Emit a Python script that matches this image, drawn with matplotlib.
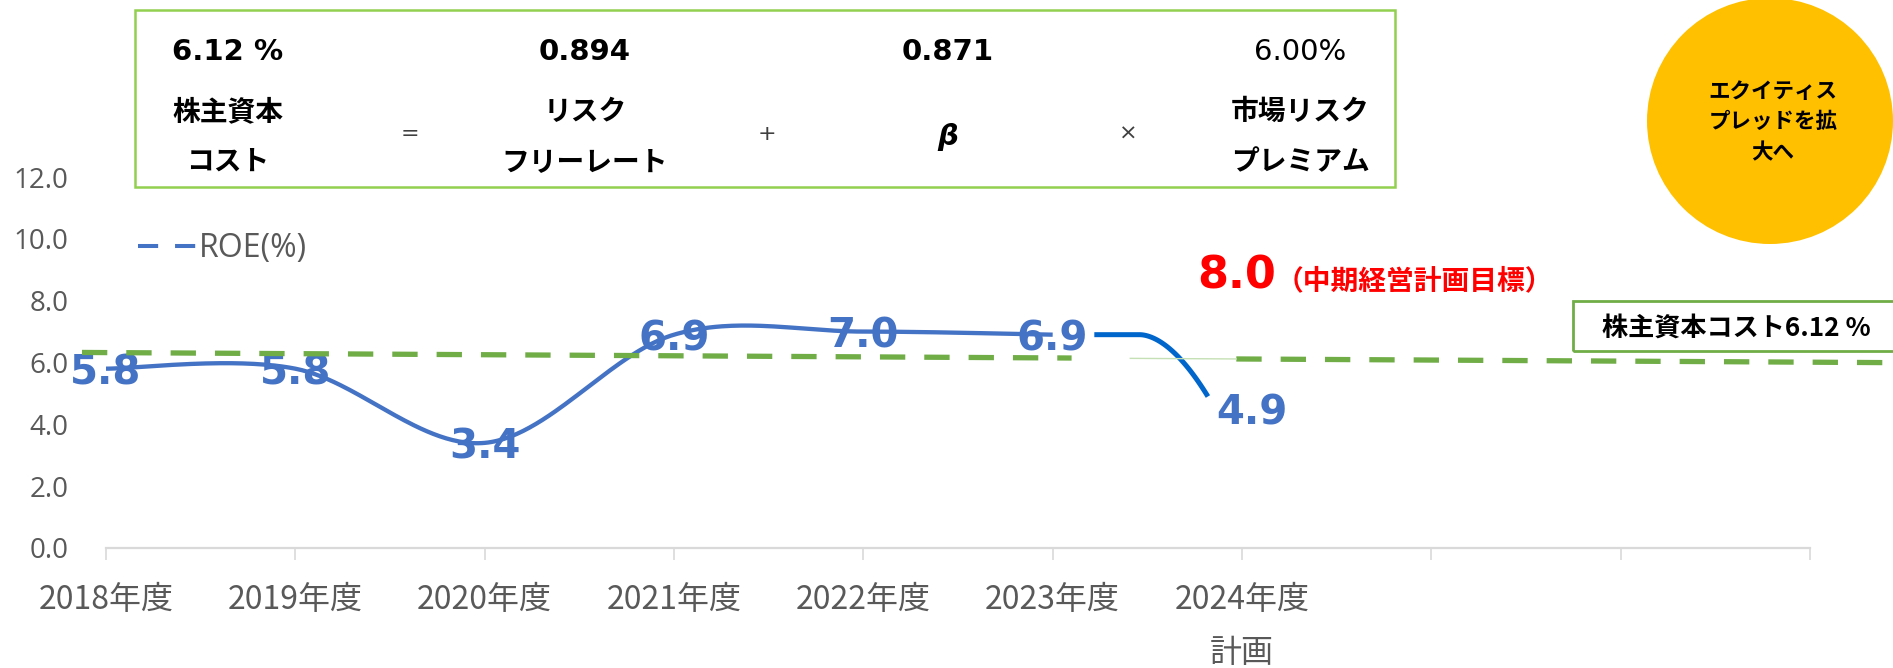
import numpy as np
import matplotlib
matplotlib.use("Agg")
import matplotlib.pyplot as plt
from matplotlib import patches
from matplotlib.lines import Line2D

# ---------------- data ----------------
categories = ["2018年度", "2019年度", "2020年度", "2021年度", "2022年度",
              "2023年度", "2024年度\n計画", "", "", ""]
roe_actual = [5.8, 5.8, 3.4, 6.9, 7.0, 6.9]      # 2018-2023
roe_plan = 4.9                                   # 2024 plan
roe_target = 8.0                                 # mid-term plan target
cost_of_equity = 6.12
formula_values = ["6.12 %", "0.894", "0.871", "6.00%"]
formula_names = [["株主資本", "コスト"], ["リスク", "フリーレート"], ["β"], ["市場リスク", "プレミアム"]]
formula_ops = ["=", "+", "×"]
circle_text = "エクイティス\nプレッドを拡\n大へ"
legend_label = "ROE(%)"
yticks = [0, 2, 4, 6, 8, 10, 12]

# ---------------- style ----------------
W, H = 1893, 668
BLUE = "#4472C4"
BLUE2 = "#0066CC"
GREEN = "#70AD47"
LGREEN = "#92D050"
GRAY = "#595959"
CJK = ["Noto Sans CJK JP", "DejaVu Sans"]

plt.rcParams["font.family"] = ["DejaVu Sans", "Noto Sans CJK JP"]

fig = plt.figure(figsize=(W / 100, H / 100), dpi=100)
fx = lambda px: px / W
fy = lambda py: 1 - py / H

ax = fig.add_axes([fx(106), fy(548), fx(1810) - fx(106), fy(177) - fy(548)])
ax.set_xlim(0, len(categories) - 1)
ax.set_ylim(0, 12)
for s in ["left", "right", "top"]:
    ax.spines[s].set_visible(False)
ax.spines["bottom"].set_color("#D9D9D9")
ax.spines["bottom"].set_linewidth(1.6)

ax.set_yticks(yticks)
ax.set_yticklabels([f"{v:.1f}" for v in yticks], family="Open Sans", fontsize=20, color=GRAY)
ax.tick_params(axis="y", length=0, pad=27)

ax.set_xticks(range(len(categories)))
ax.set_xticklabels(categories, family=CJK, fontsize=23, color=GRAY)
ax.tick_params(axis="x", length=8.6, width=1.2, color="#D9D9D9", pad=17)
for lbl in ax.get_xticklabels():
    lbl.set_linespacing(1.85)


def catmull_rom(xs, ys, n=60):
    P = np.column_stack([xs, ys]).astype(float)
    P = np.vstack([P[0], P, P[-1]])
    out = []
    t = np.linspace(0, 1, n)[:, None]
    for i in range(1, len(P) - 2):
        p0, p1, p2, p3 = P[i - 1], P[i], P[i + 1], P[i + 2]
        m1 = (p2 - p0) / 2
        m2 = (p3 - p1) / 2
        h00 = 2 * t**3 - 3 * t**2 + 1
        h10 = t**3 - 2 * t**2 + t
        h01 = -2 * t**3 + 3 * t**2
        h11 = t**3 - t**2
        out.append(h00 * p1 + h10 * m1 + h01 * p2 + h11 * m2)
    return np.vstack(out)


xa = np.arange(len(roe_actual))
curve = catmull_rom(xa, np.array(roe_actual))
ax.plot(curve[:, 0], curve[:, 1], color=BLUE, lw=3.1, solid_capstyle="butt", zorder=3)

# plan segment (2023 -> 2024), drawn as a separate eased curve
x0 = len(roe_actual) - 1
t = np.linspace(0, 1, 80)
u = np.clip((t - 0.4) / 0.6, 0, 1)
xs = x0 + 0.22 + 0.6 * t
ys = roe_actual[-1] + (roe_plan - roe_actual[-1]) * u**1.8
ax.plot(xs, ys, color=BLUE2, lw=3.6, solid_capstyle="butt", zorder=3)

# data labels
for i, v in enumerate(roe_actual):
    ax.annotate(f"{v:.1f}", (i, v), xytext=(0, -3.5), textcoords="offset points",
                ha="center", va="center", fontsize=29, fontweight="bold", color=BLUE,
                zorder=4, family="DejaVu Sans")
ax.annotate(f"{roe_plan:.1f}", (x0 + 1, roe_plan), xytext=(7, -12), textcoords="offset points",
            ha="center", va="center", fontsize=29, fontweight="bold", color=BLUE,
            zorder=4, family="DejaVu Sans")

# cost of equity dashed line (slightly tilted hand-drawn shape)
def coe(x):
    return cost_of_equity + 0.205 - 0.0345 * (x + 0.127)

dash = (0, (4.8, 3.6))
xl = np.array([-0.127, 5.10])
ax.plot(xl, coe(xl), color=GREEN, lw=3.8, ls=dash, dash_capstyle="butt",
        clip_on=False, zorder=5)
xr = np.array([5.97, 9.5])
ax.plot(xr, coe(xr), color=GREEN, lw=3.8, ls=dash, dash_capstyle="butt",
        clip_on=False, zorder=5)
xg = np.array([5.41, 5.97])
ax.plot(xg, coe(xg), color="#C5E0B4", lw=1.0, clip_on=False, zorder=5)

# legend
h = Line2D([], [], color=BLUE, lw=2.9, ls=(0, (5, 4.2)), dash_capstyle="butt")
leg = ax.legend([h], [legend_label], loc="center left",
                bbox_to_anchor=(fx(138), fy(249)), bbox_transform=fig.transFigure,
                frameon=False, handlelength=1.8, handletextpad=0.12,
                borderpad=0, borderaxespad=0,
                prop={"family": "Open Sans", "size": 23})
for txt in leg.get_texts():
    txt.set_color(GRAY)

# target annotation
fig.text(fx(1237), fy(276), f"{roe_target:.1f}", ha="center", va="center",
         fontsize=32, fontweight="bold", color="#FF0000", family="DejaVu Sans")
fig.text(fx(1276), fy(281), "（中期経営計画目標）", ha="left", va="center",
         fontsize=20, fontweight="bold", color="#FF0000", family=CJK)

# cost box on right
fig.patches.append(patches.Rectangle((fx(1573), fy(351)), fx(1900) - fx(1573), fy(301) - fy(351),
                                     transform=fig.transFigure, fill=False,
                                     edgecolor=GREEN, lw=2.0))
fig.text(fx(1736), fy(328), f"株主資本コスト{cost_of_equity:.2f} %", ha="center", va="center",
         fontsize=18.8, fontweight="bold", color="black", family=CJK)

# formula box on top
fig.patches.append(patches.Rectangle((fx(135), fy(187)), fx(1395) - fx(135), fy(10) - fy(187),
                                     transform=fig.transFigure, fill=False,
                                     edgecolor=LGREEN, lw=1.8))
col_x = [228, 585, 948, 1300]
for i, (val, names) in enumerate(zip(formula_values, formula_names)):
    fw = "normal" if i == 3 else "bold"
    fig.text(fx(col_x[i]), fy(52), val, ha="center", va="center", fontsize=21,
             fontweight=fw, color="black", family="DejaVu Sans")
    if len(names) == 2:
        fig.text(fx(col_x[i]), fy(112), names[0], ha="center", va="center", fontsize=20,
                 fontweight="bold", family=CJK)
        fig.text(fx(col_x[i]), fy(162), names[1], ha="center", va="center", fontsize=20,
                 fontweight="bold", family=CJK)
    else:
        fig.text(fx(col_x[i]), fy(137), names[0], ha="center", va="center", fontsize=21,
                 fontweight="bold", fontstyle="italic", family="DejaVu Sans")
op_x = [410, 767, 1128]
for ox, op in zip(op_x, formula_ops):
    fig.text(fx(ox), fy(134), op, ha="center", va="center", fontsize=16, color="#404040",
             family="DejaVu Sans")

# circle
r = 123
fig.patches.append(patches.Ellipse((fx(1770), fy(121)), 2 * r / W, 2 * r / H,
                                   transform=fig.transFigure, facecolor="#FFC000",
                                   edgecolor="none"))
fig.text(fx(1773), fy(122), circle_text, ha="center", va="center", fontsize=15.5,
         fontweight="bold", linespacing=1.55, family=CJK)

fig.savefig("out.png", dpi=100)
